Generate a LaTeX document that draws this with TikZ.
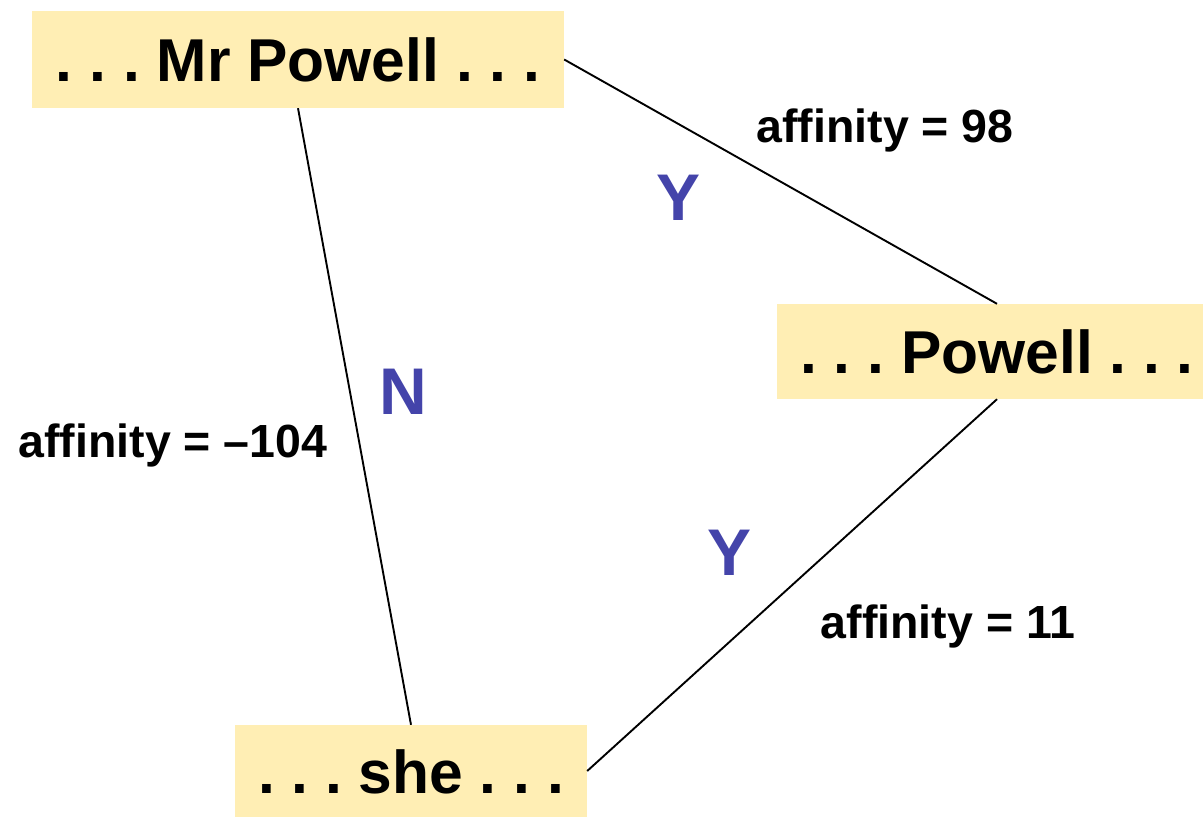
\documentclass[tikz,border=0pt]{standalone}
\usepackage{fontspec}
\setmainfont{Liberation Sans}
\definecolor{boxfill}{RGB}{255,238,180}
\definecolor{ynblue}{RGB}{68,68,170}
\begin{document}
\begin{tikzpicture}[x=1pt,y=-1pt,
  mention/.style={fill=boxfill, draw=none, inner sep=0pt, align=center,
    font=\fontsize{60.5}{64}\selectfont\bfseries},
  afflabel/.style={anchor=base, inner sep=0pt, font=\fontsize{46.5}{50}\selectfont\bfseries},
  yn/.style={anchor=base, inner sep=0pt, text=ynblue, font=\fontsize{66}{70}\selectfont\bfseries},
  link/.style={draw=black, line width=1.9pt}]
\useasboundingbox (0,0) rectangle (1203,817);
\node[mention, minimum width=532pt, text height=70pt, text depth=27pt] (mr) at (298,59.5) {.\ .\ .\ Mr Powell .\ .\ .};
\node[mention, minimum width=440pt, text height=69pt, text depth=26pt] (pw) at (997,351.5) {.\ .\ .\ Powell .\ .\ .};
\node[mention, minimum width=352pt, text height=68pt, text depth=24pt] (she) at (411,771) {.\ .\ .\ she .\ .\ .};
\draw[link] (mr.south) -- (she.north);
\draw[link] (mr.east) -- (pw.north);
\draw[link] (pw.south) -- (she.east);
\node[afflabel] (a98) at (885,142) {affinity = 98};
\node[afflabel] (a104) at (173,457) {affinity = --104};
\node[afflabel] (a11) at (948,638) {affinity = 11};
\node[yn] (y1) at (678.5,220) {Y};
\node[yn] (n1) at (403,414) {N};
\node[yn] (y2) at (730,575) {Y};
\end{tikzpicture}
\end{document}
